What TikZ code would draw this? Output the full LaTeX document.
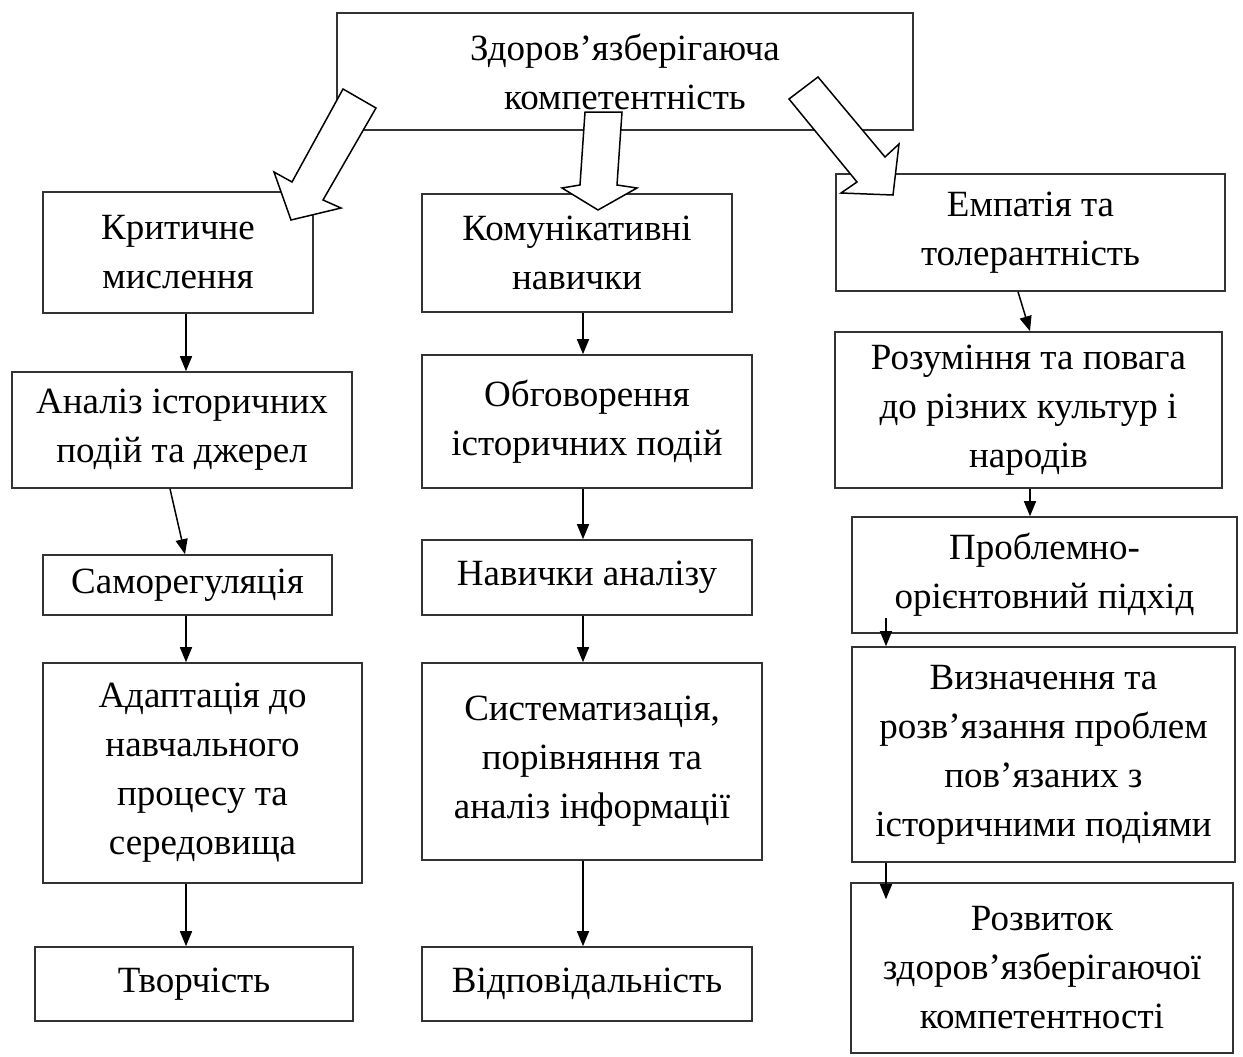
\documentclass[tikz,border=0pt]{standalone}
\usepackage{fontspec}
\setmainfont{Liberation Serif}
\usetikzlibrary{arrows.meta}
\begin{document}
\begin{tikzpicture}[x=1pt,y=-1pt,
  box/.style={draw=black!80, line width=1.6pt, align=center, inner sep=0pt,
    font=\fontsize{37}{49}\selectfont},
  arr/.style={-{Triangle[length=15pt,width=12pt]}, line width=1.5pt},
  barrow/.style={draw=black, fill=white, line width=1.5pt, line join=miter}]
\useasboundingbox (0,0) rectangle (1243,1057);
% top
\node[box, minimum width=576pt, minimum height=117pt] (top) at (625,71.5) {Здоров’язберігаюча\\компетентність};
% left column
\node[box, minimum width=270pt, minimum height=121pt] (krit) at (178,252.5) {Критичне\\мислення};
\node[box, minimum width=340pt, minimum height=116pt] (analiz) at (182,430) {Аналіз історичних\\подій та джерел};
\node[box, minimum width=289pt, minimum height=60pt] (samo) at (187.5,585) {Саморегуляція};
\node[box, minimum width=319pt, minimum height=220pt] (adapt) at (202.5,773) {Адаптація до\\навчального\\процесу та\\середовища};
\node[box, minimum width=318pt, minimum height=74pt] (tvor) at (194,984) {Творчість};
% middle column
\node[box, minimum width=310pt, minimum height=118pt] (komun) at (577,253) {Комунікативні\\навички};
\node[box, minimum width=330pt, minimum height=133pt] (obgov) at (587,421.5) {Обговорення\\історичних подій};
\node[box, minimum width=330pt, minimum height=75pt] (navan) at (587,577.5) {Навички аналізу};
\node[box, minimum width=340pt, minimum height=197pt] (system) at (592,761.5) {Систематизація,\\порівняння та\\аналіз інформації};
\node[box, minimum width=330pt, minimum height=74pt] (vidp) at (587,984) {Відповідальність};
% right column
\node[box, minimum width=389pt, minimum height=117pt] (empat) at (1030.5,232.5) {Емпатія та\\толерантність};
\node[box, minimum width=387pt, minimum height=156pt] (rozum) at (1028.5,410) {Розуміння та повага\\до різних культур і\\народів};
\node[box, minimum width=385pt, minimum height=116pt] (probl) at (1044.5,575) {Проблемно-\\орієнтовний підхід};
\node[box, minimum width=383pt, minimum height=215pt] (vyzn) at (1043.5,754.5) {Визначення та\\розв’язання проблем\\пов’язаних з\\історичними подіями};
\node[box, minimum width=382pt, minimum height=170pt] (rozv) at (1042,968) {Розвиток\\здоров’язберігаючої\\компетентності};
% small arrows
\draw[arr] ([xshift=8pt]krit.south) -- ([xshift=4pt]analiz.north);
\draw[arr] ([xshift=-12pt]analiz.south) -- ([xshift=-2.5pt]samo.north);
\draw[arr] ([xshift=-1.5pt]samo.south) -- ([xshift=-16.5pt]adapt.north);
\draw[arr] ([xshift=-16.5pt]adapt.south) -- ([xshift=-8pt]tvor.north);
\draw[arr] ([xshift=6pt]komun.south) -- ([xshift=-4pt]obgov.north);
\draw[arr] ([xshift=-4pt]obgov.south) -- ([xshift=-4pt]navan.north);
\draw[arr] ([xshift=-4pt]navan.south) -- ([xshift=-9pt]system.north);
\draw[arr] ([xshift=-9pt]system.south) -- ([xshift=-4pt]vidp.north);
\draw[arr] ([xshift=-12.5pt]empat.south) -- ([xshift=1.5pt]rozum.north);
\draw[arr] ([xshift=1.5pt]rozum.south) -- ([xshift=-14.5pt]probl.north);
\draw[arr] ([xshift=-158.5pt,yshift=16pt]probl.south) -- ([xshift=-157.5pt]vyzn.north);
\draw[arr] ([xshift=-157.5pt]vyzn.south) -- ([xshift=-156pt,yshift=-17pt]rozv.north);
% block arrows
\draw[barrow] (343,89) -- (292,182) -- (274,172) -- (291,220) -- (341,208) -- (323,200) -- (376,108) -- cycle;
\draw[barrow] (585,112) -- (580,185) -- (562,188) -- (598,210) -- (637,188) -- (617,185) -- (622,112) -- cycle;
\draw[barrow] (789,99) -- (857,182) -- (841,193) -- (893,195) -- (899,144) -- (885,157) -- (818,77) -- cycle;
\end{tikzpicture}
\end{document}
